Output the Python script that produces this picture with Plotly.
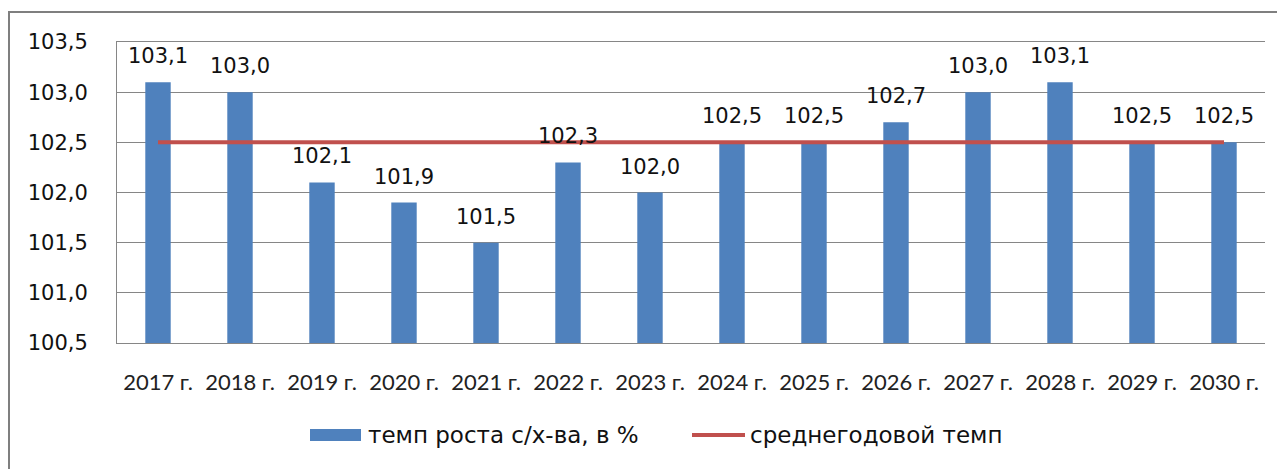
import plotly.graph_objects as go

categories = ["2017 г.", "2018 г.", "2019 г.", "2020 г.", "2021 г.", "2022 г.", "2023 г.",
              "2024 г.", "2025 г.", "2026 г.", "2027 г.", "2028 г.", "2029 г.", "2030 г."]
growth = [103.1, 103.0, 102.1, 101.9, 101.5, 102.3, 102.0, 102.5, 102.5, 102.7, 103.0, 103.1, 102.5, 102.5]
average = [102.5] * len(categories)
bar_name = "темп роста с/х-ва, в %"
line_name = "среднегодовой темп"

OFF = 8  # page body margin
W, H = 1285 - OFF, 469 - OFF
ML, MR, MT, MB = 117 - OFF, 20, 42 - OFF, 126
PW, PH = W - ML - MR, H - MT - MB

def px(x):
    return (x - OFF - ML) / PW

def py(y):
    return (H - MB - (y - OFF)) / PH

BLUE = "#4F81BD"
RED = "#C0504D"
GRID = "#868686"
TXT = "'DejaVu Sans', sans-serif"
SANS = "Lato, 'Noto Sans', sans-serif"

fig = go.Figure()
fig.add_trace(go.Bar(x=categories, y=growth, name=bar_name, marker=dict(color=BLUE, line=dict(width=0)),
                     showlegend=False))
fig.add_trace(go.Scatter(x=categories, y=average, name=line_name, mode="lines",
                         line=dict(color=RED, width=4), showlegend=False))

for c, v in zip(categories, growth):
    fig.add_annotation(x=c, y=v, text=f"{v:.1f}".replace(".", ","), showarrow=False,
                       yanchor="middle", yshift=26, font=dict(family=TXT, size=21, color="#111"))

shapes = [
    dict(type="rect", xref="paper", yref="paper", x0=px(9), x1=px(1300), y0=py(12), y1=py(520),
         line=dict(color="#7F7F7F", width=2), fillcolor="rgba(0,0,0,0)", layer="below"),
    dict(type="rect", xref="paper", yref="paper", x0=px(310), x1=px(361), y0=py(429), y1=py(441),
         line=dict(width=0), fillcolor=BLUE),
    dict(type="line", xref="paper", yref="paper", x0=px(692), x1=px(745), y0=py(435), y1=py(435),
         line=dict(color=RED, width=4)),
]
fig.add_annotation(xref="paper", yref="paper", x=px(366), y=py(435), text=bar_name, showarrow=False,
                   xanchor="left", yanchor="middle", font=dict(family=TXT, size=23, color="#111"))
fig.add_annotation(xref="paper", yref="paper", x=px(748), y=py(435), text=line_name, showarrow=False,
                   xanchor="left", yanchor="middle", font=dict(family=TXT, size=23, color="#111"))

fig.update_layout(
    width=W, height=H, margin=dict(l=ML, r=MR, t=MT, b=MB),
    paper_bgcolor="white", plot_bgcolor="white",
    separators=", ", bargap=0.69, shapes=shapes,
    xaxis=dict(showline=True, mirror=True, linecolor=GRID, linewidth=1, ticks="",
               tickfont=dict(family=SANS, size=22, color="#222"), ticklabelstandoff=20,
               showgrid=False),
    yaxis=dict(range=[100.5, 103.5], dtick=0.5, tick0=100.5, tickformat=".1f",
               showline=True, linecolor=GRID, linewidth=1, gridcolor=GRID, gridwidth=1,
               ticks="", ticklabelstandoff=24, zeroline=False,
               tickfont=dict(family=TXT, size=21, color="#111")),
)
fig.write_html("out.html")
